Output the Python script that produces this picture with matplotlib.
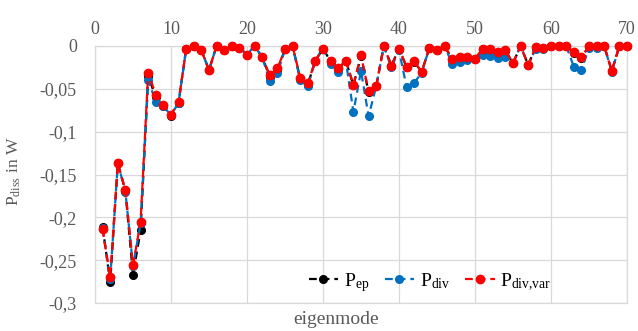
import matplotlib
matplotlib.use("Agg")
import matplotlib.pyplot as plt
from matplotlib.ticker import FuncFormatter

plt.rcParams['font.family'] = ['Liberation Serif', 'DejaVu Serif']
plt.rcParams['mathtext.fontset'] = 'custom'
plt.rcParams['mathtext.rm'] = 'Liberation Serif'
plt.rcParams['mathtext.it'] = 'Liberation Serif'

modes = list(range(1, 71))

p_div_var = [-0.214, -0.270, -0.137, -0.168, -0.256, -0.205, -0.031, -0.057, -0.069, -0.080,
             -0.065, -0.003, 0.000, -0.005, -0.028, 0.000, -0.005, 0.000, -0.002, -0.010,
             0.000, -0.013, -0.034, -0.026, -0.004, 0.000, -0.037, -0.043, -0.017, -0.003,
             -0.017, -0.026, -0.017, -0.045, -0.011, -0.053, -0.047, 0.000, -0.023, -0.003,
             -0.024, -0.018, -0.030, -0.002, -0.005, 0.000, -0.015, -0.013, -0.013, -0.015,
             -0.003, -0.004, -0.007, -0.005, -0.020, 0.000, -0.022, -0.001, -0.002, 0.000,
             0.000, 0.000, -0.007, -0.013, 0.000, 0.000, 0.000, -0.029, 0.000, 0.000]

p_div = [-0.213, -0.272, -0.137, -0.170, -0.257, -0.207, -0.040, -0.065, -0.070, -0.081,
         -0.066, -0.003, 0.000, -0.005, -0.028, 0.000, -0.005, 0.000, -0.002, -0.010,
         0.000, -0.013, -0.041, -0.032, -0.004, 0.000, -0.040, -0.047, -0.017, -0.003,
         -0.021, -0.030, -0.017, -0.077, -0.029, -0.082, -0.047, 0.000, -0.025, -0.005,
         -0.048, -0.043, -0.031, -0.002, -0.005, 0.000, -0.021, -0.019, -0.016, -0.015,
         -0.010, -0.012, -0.014, -0.013, -0.020, 0.000, -0.022, -0.003, -0.003, 0.000,
         0.000, 0.000, -0.024, -0.028, -0.002, -0.002, 0.000, -0.030, 0.000, 0.000]

p_ep = [-0.211, -0.276, -0.137, -0.169, -0.267, -0.215, -0.035, -0.060, -0.070, -0.082,
        -0.066, -0.003, 0.000, -0.005, -0.028, 0.000, -0.005, 0.000, -0.002, -0.010,
        0.000, -0.013, -0.036, -0.028, -0.004, 0.000, -0.038, -0.045, -0.017, -0.003,
        -0.018, -0.027, -0.017, -0.046, -0.012, -0.054, -0.047, 0.000, -0.023, -0.003,
        -0.025, -0.019, -0.030, -0.002, -0.005, 0.000, -0.016, -0.014, -0.014, -0.015,
        -0.004, -0.005, -0.008, -0.006, -0.020, 0.000, -0.022, -0.001, -0.002, 0.000,
        0.000, 0.000, -0.008, -0.014, 0.000, 0.000, 0.000, -0.029, 0.000, 0.000]

x_ticks = [0, 10, 20, 30, 40, 50, 60, 70]
y_ticks = [0, -0.05, -0.1, -0.15, -0.2, -0.25, -0.3]

fig = plt.figure(figsize=(6.38, 3.31), dpi=100)
ax = fig.add_axes([95/638, 1 - 303/331, (627-95)/638, (303-46)/331])

grid_c = '#D9D9D9'
text_c = '#595959'

common = dict(ls='--', marker='o', lw=1.6, dashes=(3.5, 2.2), clip_on=False)
ax.plot(modes, p_ep, color='black', ms=5.5, label=r'P$_{\mathrm{ep}}$', zorder=3, **common)
ax.plot(modes, p_div, color='#0070C0', ms=5.5, label=r'P$_{\mathrm{div}}$', zorder=4, **common)
ax.plot(modes, p_div_var, color='#FF0000', ms=6, label=r'P$_{\mathrm{div{,}var}}$', zorder=5, **common)

ax.set_xlim(0, 70)
ax.set_ylim(-0.3, 0)
ax.set_xticks(x_ticks)
ax.set_yticks(y_ticks)
ax.xaxis.tick_top()
ax.xaxis.set_label_position('bottom')

def yfmt(v, pos):
    if abs(v) < 1e-12:
        return '0'
    return ('%g' % v).replace('.', ',')
ax.yaxis.set_major_formatter(FuncFormatter(yfmt))

ax.tick_params(axis='both', length=0, labelsize=13, colors=text_c)
ax.tick_params(axis='y', pad=13)
ax.tick_params(axis='x', pad=6)
ax.grid(True, color=grid_c, lw=0.9)
ax.set_axisbelow(True)
for s in ax.spines.values():
    s.set_color(grid_c)
    s.set_linewidth(0.9)

ax.set_xlabel('eigenmode', fontsize=14, color=text_c, va='center')
ax.xaxis.set_label_coords(0.453, -0.066)
ax.set_ylabel(r'P$_{\mathrm{diss}}$ in W', fontsize=12.5, color=text_c, va='center')
ax.yaxis.set_label_coords(-0.152, 0.514)

leg = ax.legend(loc='center', bbox_to_anchor=(0.63, 0.08), ncol=3, frameon=False,
                fontsize=14, handlelength=1.5, columnspacing=0.8, handletextpad=0.3,
                borderaxespad=0)

fig.savefig('out.png', dpi=100)
